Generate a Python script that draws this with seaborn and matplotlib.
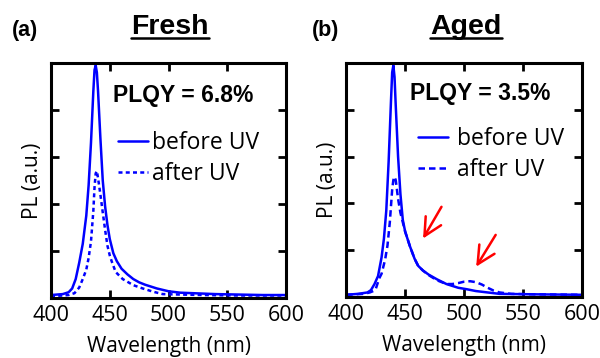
import matplotlib
matplotlib.use("Agg")
import matplotlib.pyplot as plt
from matplotlib.lines import Line2D
import seaborn as sns

# ---- data (wavelength in nm, PL in a.u.) ----
wl_a_before = [400, 405, 410, 415, 418, 421, 424, 427, 430, 432, 434, 436, 437, 438, 439, 440, 442, 444,
               446, 448, 450, 453, 456, 460, 465, 470, 475, 480, 490, 500, 510, 520, 540, 560, 580, 600]
pl_a_before = [0.06, 0.07, 0.08, 0.12, 0.2, 0.4, 0.75, 1.15, 1.75, 2.4, 3.3, 4.4, 4.85, 4.95, 4.8, 4.4, 3.4, 2.5,
               1.95, 1.55, 1.25, 0.95, 0.78, 0.62, 0.5, 0.4, 0.33, 0.28, 0.2, 0.14, 0.11, 0.1, 0.08, 0.07, 0.06, 0.06]

wl_a_after = [400, 410, 415, 420, 424, 427, 430, 432, 434, 436, 437, 438, 439, 440, 442, 444, 446, 448,
              450, 452, 455, 461, 470, 478, 487, 495, 510, 530, 560, 600]
pl_a_after = [0.04, 0.05, 0.06, 0.1, 0.22, 0.4, 0.6, 0.85, 1.2, 1.85, 2.35, 2.65, 2.7, 2.55, 2.2, 1.82, 1.45, 1.11,
              0.9, 0.75, 0.55, 0.4, 0.27, 0.2, 0.13, 0.08, 0.07, 0.06, 0.05, 0.05]

wl_b_before = [400, 410, 418, 421, 424, 427, 430, 432, 434, 436, 438, 439, 440, 441, 442, 444, 446, 448,
               450, 454, 458, 461, 465, 470, 477, 485, 495, 502, 510, 520, 530, 560, 600]
pl_b_before = [0.05, 0.07, 0.1, 0.15, 0.28, 0.45, 0.85, 1.25, 1.85, 2.9, 4.2, 4.8, 4.95, 4.7, 4.1, 3.0, 2.2, 1.65,
               1.4, 1.09, 0.82, 0.67, 0.57, 0.48, 0.38, 0.28, 0.2, 0.17, 0.13, 0.1, 0.07, 0.06, 0.05]

wl_b_after = [400, 415, 420, 423, 425, 428, 430, 433, 435, 437, 439, 440, 441, 442, 444, 446, 450, 454,
              458, 461, 465, 470, 477, 485, 490, 495, 500, 505, 510, 515, 520, 525, 530, 540, 560, 600]
pl_b_after = [0.05, 0.07, 0.1, 0.13, 0.17, 0.4, 0.5, 0.8, 1.1, 1.6, 2.3, 2.5, 2.57, 2.5, 2.1, 1.8, 1.4, 1.09,
              0.82, 0.67, 0.57, 0.47, 0.36, 0.28, 0.28, 0.3, 0.33, 0.34, 0.32, 0.27, 0.2, 0.14, 0.1, 0.07, 0.06, 0.05]

x_ticks = [400, 450, 500, 550, 600]
panel_tags = ["(a)", "(b)"]
panel_titles = ["Fresh", "Aged"]
plqy_texts = ["PLQY = 6.8%", "PLQY = 3.5%"]
legend_labels = ["before UV", "after UV"]

sns.set_style("ticks")
plt.rcParams["font.family"] = ["Open Sans", "DejaVu Sans"]
plt.rcParams["text.color"] = "black"
plt.rcParams["axes.labelcolor"] = "black"

blue = "#0000ff"
fig = plt.figure(figsize=(6, 3.58), dpi=100)
ax_a = fig.add_axes([0.085, 0.168, 0.392, 0.656])
ax_b = fig.add_axes([0.577, 0.170, 0.393, 0.654])

panels = [
    (ax_a, wl_a_before, pl_a_before, wl_a_after, pl_a_after, (1.6, 1.3), 0.264, 0.86, 0.285, 0.71),
    (ax_b, wl_b_before, pl_b_before, wl_b_after, pl_b_after, (2.6, 1.6), 0.271, 0.869, 0.305, 0.725),
]

for i, (ax, wb, pb, wa, pa, dash, tx, ty, lx, ly) in enumerate(panels):
    sns.lineplot(x=wb, y=pb, ax=ax, color=blue, lw=1.8)
    sns.lineplot(x=wa, y=pa, ax=ax, color=blue, lw=1.8)
    ax.lines[-1].set_dashes(dash)

    ax.set_xlim(400, 600)
    ax.set_ylim(0, 5.0)
    ax.set_xticks(x_ticks)
    ax.set_yticks([0, 1, 2, 3, 4, 5])
    ax.set_yticklabels([])
    ax.tick_params(direction="in", top=True, right=True, length=6, width=2,
                   labelsize=15.5, pad=5, colors="black")
    for s in ax.spines.values():
        s.set_linewidth(2.2)
        s.set_color("black")
    ax.set_xlabel("Wavelength (nm)", fontsize=15, labelpad=7)
    ax.set_ylabel("PL (a.u.)", fontsize=15, labelpad=1)

    ax.text(tx, ty, plqy_texts[i], transform=ax.transAxes, color="black",
            fontsize=16.5, fontweight="bold", family="Liberation Sans", va="center")

    handles = [Line2D([], [], color=blue, lw=1.8),
               Line2D([], [], color=blue, lw=1.8, dashes=dash)]
    ax.legend(handles, legend_labels, frameon=False, loc="upper left",
              bbox_to_anchor=(lx, ly), fontsize=16.5, handlelength=1.3,
              handletextpad=0.2 if i == 0 else 0.4, labelspacing=0.3,
              borderpad=0, borderaxespad=0)

# red arrows on the aged panel
arrow_kw = dict(arrowstyle="->", color="#ff0000", lw=1.8, mutation_scale=32)
ax_b.annotate("", xy=(464, 1.2), xytext=(482, 1.98), arrowprops=arrow_kw)
ax_b.annotate("", xy=(509, 0.6), xytext=(528, 1.38), arrowprops=arrow_kw)

# panel tags and underlined titles
for i in range(2):
    fig.text(0.02 + 0.5 * i, 0.916, panel_tags[i], fontsize=15.5, fontweight="bold",
             family="Liberation Sans", va="center", color="black")
title_objs = []
for i, cx in enumerate([170 / 600, 466 / 600]):
    t = fig.text(cx, 0.925, panel_titles[i], fontsize=20.5, fontweight="bold",
                 family="Liberation Sans", ha="center", va="center", color="black")
    title_objs.append(t)

fig.canvas.draw()
renderer = fig.canvas.get_renderer()
for t in title_objs:
    bb = t.get_window_extent(renderer).transformed(fig.transFigure.inverted())
    y = bb.y0 + 0.004
    fig.add_artist(Line2D([bb.x0, bb.x1], [y, y], color="black", lw=1.8,
                          transform=fig.transFigure))

fig.savefig("out.png", dpi=100)
